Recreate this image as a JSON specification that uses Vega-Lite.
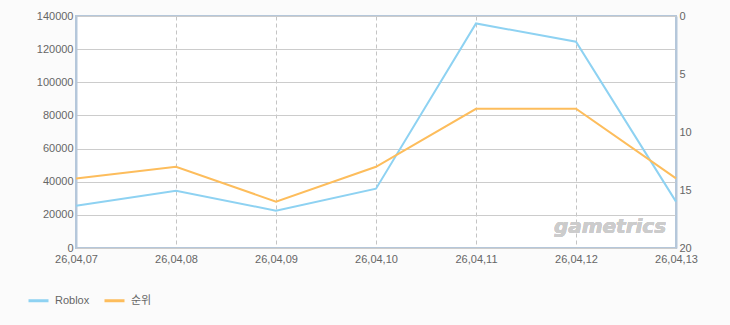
{
  "$schema": "https://vega.github.io/schema/vega-lite/v6.json",
  "width": 600,
  "height": 232,
  "autosize": {"type": "none"},
  "padding": {"left": 76, "top": 16, "right": 54, "bottom": 77},
  "background": "#fbfbfb",
  "data": {
    "values": [
      {"date": "26,04,07", "roblox": 25500, "rank": 14},
      {"date": "26,04,08", "roblox": 34500, "rank": 13},
      {"date": "26,04,09", "roblox": 22500, "rank": 16},
      {"date": "26,04,10", "roblox": 35800, "rank": 13},
      {"date": "26,04,11", "roblox": 135500, "rank": 8},
      {"date": "26,04,12", "roblox": 124500, "rank": 8},
      {"date": "26,04,13", "roblox": 28000, "rank": 14}
    ]
  },
  "encoding": {
    "x": {
      "field": "date",
      "type": "ordinal",
      "scale": {"type": "point", "padding": 0},
      "axis": {
        "title": null,
        "labelAngle": 0,
        "ticks": false,
        "domain": false,
        "grid": true,
        "gridDash": [4, 3],
        "gridColor": "#c4c4c4",
        "labelPadding": 5,
        "labelOverlap": false,
        "labelColor": "#666666",
        "labelFont": "Liberation Sans",
        "labelFontSize": 11
      }
    }
  },
  "layer": [
    {
      "mark": {"type": "line", "strokeWidth": 2},
      "encoding": {
        "y": {
          "field": "roblox",
          "type": "quantitative",
          "scale": {"domain": [0, 140000], "nice": false},
          "axis": {
            "title": null,
            "values": [0, 20000, 40000, 60000, 80000, 100000, 120000, 140000],
            "format": "d",
            "ticks": false,
            "domain": true,
            "domainColor": "#b5c7da",
            "domainWidth": 2,
            "grid": true,
            "gridColor": "#cccccc",
            "labelPadding": 3,
            "labelOverlap": false,
            "labelColor": "#666666",
            "labelFont": "Liberation Sans",
            "labelFontSize": 11
          }
        },
        "color": {"datum": "Roblox"}
      }
    },
    {
      "mark": {"type": "line", "strokeWidth": 2},
      "encoding": {
        "y": {
          "field": "rank",
          "type": "quantitative",
          "scale": {"domain": [0, 20], "nice": false, "reverse": true},
          "axis": {
            "title": null,
            "orient": "right",
            "values": [0, 5, 10, 15, 20],
            "ticks": false,
            "grid": false,
            "domain": true,
            "domainColor": "#b5c7da",
            "domainWidth": 2,
            "labelPadding": 3,
            "labelOverlap": false,
            "labelColor": "#666666",
            "labelFont": "Liberation Sans",
            "labelFontSize": 11
          }
        },
        "color": {"datum": "순위"}
      }
    },
    {
      "mark": {
        "type": "text",
        "text": "gametrics",
        "fontSize": 20,
        "fontStyle": "italic",
        "fontWeight": "bold",
        "font": "DejaVu Sans",
        "color": "#cccccc",
        "align": "center",
        "baseline": "middle",
        "dx": 34
      },
      "encoding": {
        "x": {"datum": "26,04,12"},
        "y": {
          "datum": 12500,
          "type": "quantitative",
          "scale": {"domain": [0, 140000], "nice": false},
          "axis": null
        }
      }
    }
  ],
  "resolve": {"scale": {"y": "independent"}},
  "config": {
    "view": {"fill": "#ffffff", "stroke": "#b5c7da", "strokeWidth": 2},
    "range": {"category": ["#8ed2f2", "#fdbd5c"]},
    "legend": {
      "orient": "none",
      "legendX": -49,
      "legendY": 273,
      "direction": "horizontal",
      "title": null,
      "symbolType": "stroke",
      "symbolSize": 400,
      "symbolStrokeWidth": 3,
      "labelOffset": 5,
      "columnPadding": 8,
      "labelColor": "#666666",
      "labelFont": "Liberation Sans, Noto Sans CJK KR",
      "labelFontSize": 11
    }
  }
}
